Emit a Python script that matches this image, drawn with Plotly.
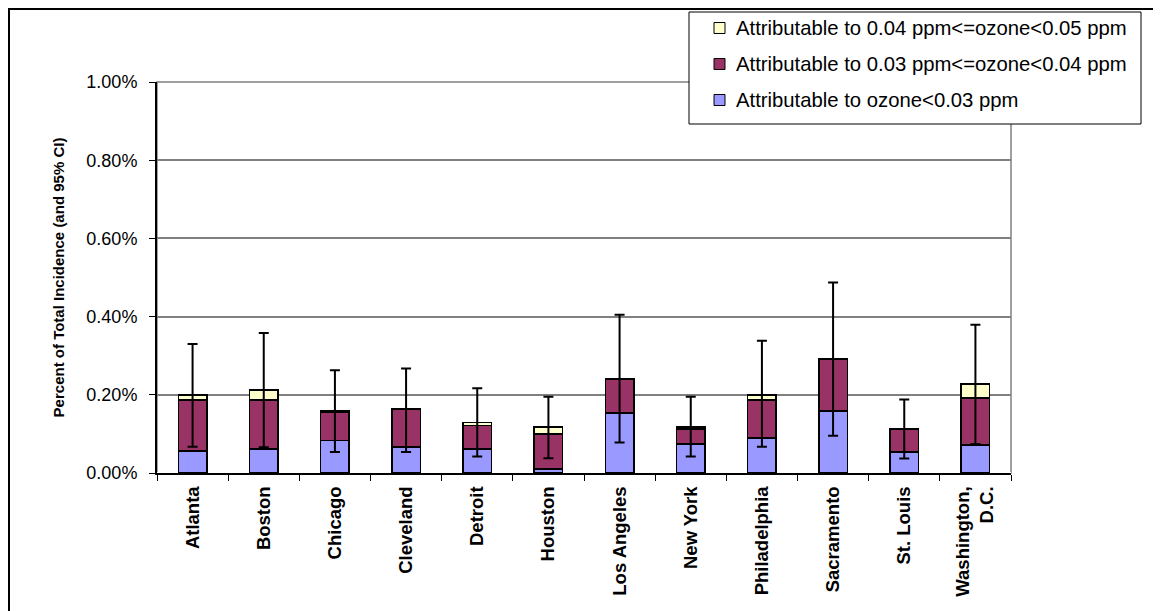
import plotly.graph_objects as go

# --- data (percent of total incidence) ---
cities = ['Atlanta', 'Boston', 'Chicago', 'Cleveland', 'Detroit', 'Houston',
          'Los Angeles', 'New York', 'Philadelphia', 'Sacramento', 'St. Louis',
          'Washington,<br>D.C.']
below_003 = [0.057, 0.061, 0.083, 0.066, 0.062, 0.010, 0.154, 0.074, 0.090, 0.158, 0.054, 0.071]
from_003_004 = [0.130, 0.126, 0.073, 0.097, 0.060, 0.090, 0.087, 0.038, 0.097, 0.134, 0.059, 0.121]
from_004_005 = [0.013, 0.025, 0.003, 0.000, 0.007, 0.017, 0.000, 0.005, 0.013, 0.000, 0.000, 0.036]
ci_upper = [0.330, 0.358, 0.263, 0.267, 0.217, 0.195, 0.405, 0.195, 0.338, 0.487, 0.188, 0.379]
ci_lower = [0.067, 0.066, 0.054, 0.054, 0.042, 0.038, 0.078, 0.042, 0.067, 0.095, 0.037, 0.074]

series_names = ['Attributable to ozone<0.03 ppm',
                'Attributable to 0.03 ppm<=ozone<0.04 ppm',
                'Attributable to 0.04 ppm<=ozone<0.05 ppm']
series_colors = ['#9999FF', '#993366', '#FFFFCC']

totals = [a + b + c for a, b, c in zip(below_003, from_003_004, from_004_005)]
err_plus = [u - t for u, t in zip(ci_upper, totals)]
err_minus = [t - l for t, l in zip(totals, ci_lower)]

FONT = 'Arial, Liberation Sans, sans-serif'
outline = dict(color='black', width=1.6)

# plot area in figure pixels
L, T, W, H = 149, 74, 854, 391
def px(x):
    return (x - L) / W
def py(y):
    return (T + H - y) / H

fig = go.Figure()
for vals, name, col in zip([below_003, from_003_004, from_004_005], series_names, series_colors):
    fig.add_trace(go.Bar(x=cities, y=vals, name=name, showlegend=False,
                         marker=dict(color=col, line=outline)))

# 95% CI whiskers
fig.add_trace(go.Scatter(
    x=cities, y=totals, mode='markers', showlegend=False, hoverinfo='skip',
    marker=dict(size=1, color='rgba(0,0,0,0)'),
    error_y=dict(type='data', symmetric=False, array=err_plus, arrayminus=err_minus,
                 color='black', thickness=2, width=5)
))

# outer chart border and plot-area frame
fig.add_shape(type='rect', xref='paper', yref='paper', x0=px(1), x1=px(1300), y0=py(900), y1=py(1),
              line=dict(color='black', width=2))
fig.add_shape(type='rect', xref='paper', yref='paper', x0=0, x1=1, y0=0, y1=1,
              line=dict(color='#808080', width=1.5), layer='below')

# legend box (drawn by hand so it does not push the margins)
fig.add_shape(type='rect', xref='paper', yref='paper', x0=px(681), x1=px(1133), y0=py(116), y1=py(4),
              line=dict(color='black', width=1), fillcolor='white')
for i, (name, col) in enumerate(zip(series_names[::-1], series_colors[::-1])):
    cy = 20 + 36 * i
    fig.add_shape(type='rect', xref='paper', yref='paper',
                  x0=px(706), x1=px(717), y0=py(cy + 5.5), y1=py(cy - 5.5),
                  line=dict(color='black', width=1), fillcolor=col)
    fig.add_annotation(xref='paper', yref='paper', x=px(726), y=py(cy), text=name,
                       showarrow=False, xanchor='left', yanchor='middle',
                       font=dict(size=20.3, family=FONT, color='black'))

fig.update_layout(
    width=1161, height=611,
    barmode='stack', bargap=0.6,
    plot_bgcolor='white', paper_bgcolor='white',
    margin=dict(l=L, r=1161 - L - W, t=T, b=611 - T - H),
    font=dict(family=FONT, color='black'),
    showlegend=False,
)
fig.update_xaxes(
    range=[-0.5, len(cities) - 0.5],
    tickangle=-90, tickson='boundaries', ticks='outside', ticklen=6, tickcolor='black',
    showline=True, linecolor='black', linewidth=2, ticklabelstandoff=4, automargin=False,
    tickfont=dict(size=18.5, family=FONT, weight='bold'),
)
fig.update_yaxes(
    range=[0, 1.0], dtick=0.2, tickformat='.2f', ticksuffix='%',
    ticks='outside', ticklen=6, tickcolor='black',
    showline=True, linecolor='black', linewidth=2,
    showgrid=True, gridcolor='#808080', gridwidth=1.5,
    tickfont=dict(size=18), ticklabelstandoff=8,
    title=dict(text='<b>Percent of Total Incidence (and 95% CI)</b>', font=dict(size=15), standoff=18),
)

fig.write_html('out.html')
